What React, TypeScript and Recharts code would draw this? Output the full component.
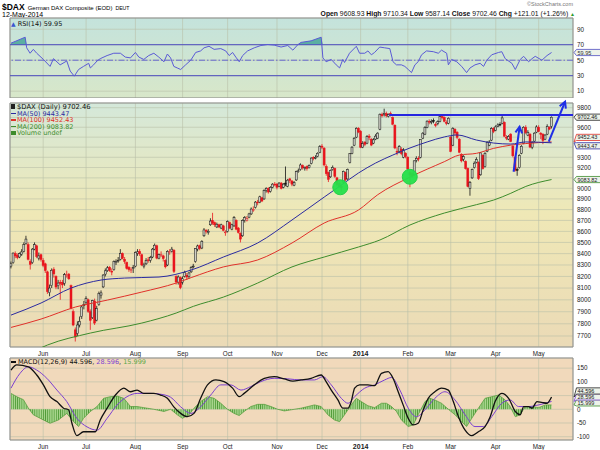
import React from 'react';
import {
  ComposedChart,
  Bar,
  Line,
  Area,
  XAxis,
  YAxis,
  CartesianGrid,
  ReferenceLine,
  ReferenceDot,
  ReferenceArea
} from 'recharts';

// trading day index 0 = 13-May-2013, 252 = 12-May-2014
const monthTicks = [15, 35, 58, 80, 101, 124, 145, 163, 185, 205, 226, 246];
const monthLabels = ['Jun', 'Jul', 'Aug', 'Sep', 'Oct', 'Nov', 'Dec', '2014', 'Feb', 'Mar', 'Apr', 'May'];
const priceTicks = [7700, 7800, 7900, 8000, 8100, 8200, 8300, 8400, 8500, 8600, 8700, 8800, 8900, 9000, 9100, 9200, 9300, 9400, 9500, 9600, 9700, 9800];
const rsiTicks = [10, 30, 50, 70, 90];
const macdTicks = [-100, -50, 0, 50, 100, 150];
// axis labels that sit behind the value tags
const priceHidden = [9700, 9500, 9400, 9100];
const macdHidden = [50];

const opens = [
  8290, 8320, 8400, 8385, 8370, 8395, 8420, 8490, 8480, 8330,
  8320, 8440, 8470, 8360, 8390, 8340, 8310, 8240, 8060, 8120,
  8260, 8200, 8120, 8150, 8150, 8140, 8210, 8220, 8120, 7900,
  7750, 7720, 7790, 7860, 7950, 7980, 8000, 7900, 7850, 7990,
  7830, 7960, 8040, 8110, 8220, 8250, 8280, 8245, 8260, 8320,
  8340, 8350, 8400, 8350, 8320, 8280, 8250, 8270, 8290, 8400,
  8420, 8390, 8290, 8310, 8345, 8340, 8370, 8440, 8470, 8360,
  8390, 8380, 8340, 8300, 8410, 8420, 8430, 8200, 8150, 8190,
  8150, 8200, 8210, 8200, 8240, 8290, 8330, 8440, 8470, 8450,
  8560, 8610, 8590, 8660, 8700, 8680, 8640, 8660, 8630, 8650,
  8590, 8600, 8680, 8620, 8650, 8700, 8630, 8580, 8560, 8700,
  8700, 8730, 8760, 8800, 8820, 8870, 8870, 8910, 8900, 8980,
  9000, 8970, 9010, 9040, 9040, 9020, 9050, 9010, 9050, 9020,
  9090, 9070, 9030, 9080, 9160, 9180, 9220, 9190, 9210, 9200,
  9240, 9300, 9290, 9310, 9350, 9410, 9390, 9210, 9150, 9110,
  9180, 9190, 9100, 9050, 9020, 9060, 9150, 9090, 9250, 9340,
  9420, 9500, 9590, 9560, 9400, 9450, 9440, 9510, 9480, 9440,
  9480, 9490, 9580, 9730, 9730, 9740, 9710, 9740, 9700, 9620,
  9360, 9360, 9380, 9300, 9340, 9300, 9150, 9140, 9130, 9270,
  9290, 9300, 9490, 9530, 9600, 9660, 9650, 9670, 9630, 9640,
  9660, 9710, 9700, 9650, 9640, 9500, 9420, 9580, 9550, 9480,
  9330, 9280, 9260, 9190, 9000, 9100, 9200, 9250, 9250, 9130,
  9320, 9210, 9360, 9420, 9470, 9590, 9570, 9610, 9630, 9640,
  9650, 9500, 9480, 9530, 9410, 9300, 9180, 9200, 9340, 9440,
  9600, 9520, 9530, 9400, 9460, 9550, 9600, 9540, 9530, 9480,
  9530, 9600, 9608.93
];
const highs = [
  8330, 8410, 8420, 8400, 8410, 8440, 8500, 8560, 8500, 8350,
  8450, 8500, 8480, 8410, 8400, 8360, 8320, 8250, 8130, 8270,
  8280, 8210, 8170, 8170, 8170, 8230, 8250, 8230, 8130, 7920,
  7770, 7820, 7860, 7950, 7990, 8030, 8010, 7920, 8000, 8010,
  7950, 8070, 8080, 8220, 8270, 8290, 8290, 8270, 8340, 8350,
  8370, 8440, 8410, 8370, 8330, 8290, 8280, 8300, 8420, 8440,
  8440, 8400, 8320, 8360, 8370, 8380, 8450, 8490, 8480, 8400,
  8420, 8390, 8350, 8430, 8440, 8460, 8440, 8210, 8210, 8200,
  8200, 8250, 8230, 8240, 8290, 8310, 8450, 8480, 8480, 8520,
  8630, 8620, 8620, 8720, 8770, 8690, 8680, 8670, 8670, 8660,
  8610, 8700, 8690, 8670, 8740, 8710, 8640, 8590, 8710, 8740,
  8740, 8770, 8820, 8830, 8880, 8890, 8930, 8920, 8990, 9010,
  9010, 9020, 9050, 9060, 9050, 9060, 9060, 9050, 9210, 9090,
  9100, 9080, 9070, 9170, 9190, 9240, 9230, 9210, 9220, 9230,
  9300, 9310, 9320, 9350, 9420, 9430, 9400, 9230, 9160, 9180,
  9220, 9200, 9110, 9070, 9040, 9170, 9160, 9190, 9340, 9410,
  9500, 9600, 9600, 9570, 9460, 9460, 9520, 9530, 9490, 9490,
  9530, 9550, 9740, 9750, 9790, 9760, 9740, 9760, 9710, 9630,
  9400, 9420, 9400, 9390, 9350, 9310, 9170, 9160, 9270, 9310,
  9310, 9480, 9550, 9610, 9670, 9680, 9680, 9690, 9650, 9670,
  9720, 9730, 9710, 9670, 9700, 9510, 9600, 9590, 9560, 9490,
  9340, 9320, 9270, 9200, 9070, 9190, 9260, 9300, 9260, 9350,
  9330, 9350, 9460, 9470, 9600, 9600, 9620, 9640, 9650, 9720,
  9660, 9520, 9520, 9540, 9420, 9310, 9200, 9330, 9420, 9610,
  9620, 9570, 9540, 9460, 9550, 9620, 9620, 9550, 9540, 9530,
  9630, 9610, 9710.34
];
const lows = [
  8270, 8310, 8360, 8350, 8360, 8380, 8410, 8480, 8340, 8260,
  8310, 8430, 8360, 8340, 8330, 8280, 8230, 8050, 8030, 8100,
  8190, 8090, 8090, 8000, 8100, 8120, 8190, 8170, 7920, 7780,
  7655, 7700, 7770, 7840, 7920, 7960, 7890, 7750, 7840, 7790,
  7820, 7950, 8010, 8100, 8200, 8240, 8240, 8210, 8250, 8300,
  8320, 8340, 8350, 8310, 8260, 8240, 8230, 8230, 8280, 8380,
  8380, 8290, 8270, 8300, 8320, 8320, 8360, 8430, 8350, 8350,
  8370, 8330, 8270, 8290, 8390, 8410, 8230, 8130, 8130, 8090,
  8130, 8190, 8170, 8180, 8230, 8270, 8320, 8420, 8430, 8440,
  8550, 8580, 8570, 8650, 8660, 8640, 8630, 8630, 8620, 8600,
  8560, 8590, 8620, 8610, 8640, 8610, 8580, 8500, 8550, 8680,
  8690, 8720, 8750, 8780, 8810, 8840, 8860, 8870, 8890, 8960,
  8950, 8960, 9000, 9020, 8990, 9010, 8990, 9000, 9020, 9010,
  9050, 9020, 9020, 9070, 9150, 9170, 9180, 9170, 9170, 9190,
  9230, 9270, 9280, 9300, 9340, 9380, 9210, 9120, 9060, 9100,
  9170, 9100, 9020, 9000, 8970, 9050, 9070, 9080, 9240, 9330,
  9410, 9490, 9540, 9390, 9390, 9410, 9430, 9470, 9410, 9430,
  9470, 9480, 9570, 9700, 9710, 9700, 9700, 9710, 9620, 9380,
  9320, 9340, 9320, 9290, 9290, 9170, 9010, 9100, 9120, 9250,
  9260, 9290, 9480, 9520, 9590, 9630, 9630, 9640, 9600, 9620,
  9650, 9680, 9650, 9620, 9630, 9350, 9410, 9520, 9480, 9340,
  9250, 9260, 9180, 9010, 8930, 9090, 9190, 9240, 9080, 9120,
  9180, 9200, 9350, 9410, 9460, 9540, 9560, 9600, 9610, 9630,
  9500, 9470, 9470, 9450, 9300, 9160, 9120, 9190, 9330, 9430,
  9530, 9510, 9390, 9380, 9450, 9540, 9550, 9480, 9430, 9470,
  9520, 9570, 9587.14
];
const closes = [
  8310, 8405, 8380, 8365, 8400, 8415, 8480, 8530, 8350, 8305,
  8440, 8480, 8375, 8380, 8348, 8296, 8251, 8069, 8100, 8254,
  8222, 8109, 8143, 8140, 8127, 8215, 8213, 8180, 7928, 7790,
  7692, 7790, 7820, 7940, 7959, 8011, 7903, 7829, 7994, 7806,
  7926, 8055, 8059, 8212, 8249, 8275, 8250, 8244, 8331, 8331,
  8342, 8402, 8358, 8331, 8269, 8260, 8258, 8276, 8410, 8416,
  8398, 8300, 8300, 8340, 8338, 8366, 8440, 8475, 8360, 8391,
  8390, 8356, 8284, 8420, 8416, 8440, 8243, 8152, 8195, 8103,
  8180, 8235, 8195, 8230, 8276, 8290, 8446, 8468, 8446, 8509,
  8613, 8600, 8600, 8694, 8675, 8660, 8665, 8640, 8660, 8610,
  8594, 8690, 8630, 8660, 8725, 8620, 8590, 8530, 8700, 8725,
  8720, 8760, 8805, 8800, 8870, 8865, 8920, 8880, 8980, 9000,
  8965, 9010, 9040, 9033, 9010, 9050, 9000, 9040, 9040, 9078,
  9075, 9040, 9055, 9160, 9168, 9225, 9197, 9200, 9190, 9220,
  9292, 9290, 9300, 9340, 9405, 9400, 9225, 9140, 9085, 9172,
  9200, 9114, 9035, 9017, 9006, 9163, 9085, 9181, 9336, 9400,
  9489, 9589, 9552, 9400, 9435, 9428, 9506, 9497, 9421, 9473,
  9510, 9540, 9733, 9717, 9742, 9716, 9730, 9720, 9631, 9392,
  9349, 9406, 9336, 9374, 9306, 9186, 9127, 9116, 9265, 9290,
  9285, 9478, 9540, 9597, 9662, 9656, 9659, 9660, 9618, 9656,
  9708, 9699, 9661, 9639, 9692, 9358, 9589, 9542, 9498, 9350,
  9265, 9307, 9189, 9017, 9056, 9180, 9242, 9277, 9093, 9343,
  9189, 9338, 9448, 9451, 9588, 9556, 9603, 9623, 9628, 9695,
  9510, 9490, 9506, 9455, 9315, 9173, 9173, 9318, 9409, 9600,
  9545, 9549, 9401, 9446, 9540, 9603, 9556, 9529, 9467, 9521,
  9608, 9581, 9702.46
];

// moving averages: [day, value]
const ma50 = [
  [0, 7872], [14, 7973], [28, 8100], [42, 8169], [53, 8186], [69, 8195], [84, 8256], [99, 8370],
  [115, 8495], [131, 8704], [146, 8917], [154, 9031], [162, 9147], [170, 9244], [178, 9322],
  [186, 9392], [194, 9452], [202, 9502], [208, 9522], [217, 9471], [225, 9441], [233, 9431],
  [240, 9452], [252, 9443.47]
];
const ma100 = [
  [0, 7770], [14, 7839], [30, 7939], [45, 7998], [61, 8066], [77, 8143], [84, 8190], [99, 8283],
  [115, 8344], [131, 8495], [146, 8676], [162, 8796], [171, 8940], [186, 9107], [202, 9257],
  [209, 9322], [217, 9339], [225, 9388], [233, 9420], [240, 9436], [252, 9452.43]
];
const ma200 = [
  [12, 7590], [17, 7627], [37, 7724], [61, 7806], [77, 7889], [85, 7945], [99, 8023], [115, 8143],
  [131, 8283], [146, 8370], [162, 8459], [172, 8522], [186, 8658], [202, 8768], [217, 8846],
  [225, 8889], [233, 8953], [240, 9018], [252, 9083.82]
];

const rsi = [
  [0, 72], [6.6, 79.7], [7.3, 66], [8.9, 59], [10.4, 64], [12, 59], [15.1, 51], [18.2, 42], [19.8, 52],
  [22.9, 44], [26, 49], [27.6, 36], [29.5, 29.4], [31.5, 38], [33.8, 42], [36.2, 46], [37, 40],
  [38.5, 44], [40.1, 49], [41.6, 52], [44.8, 56], [47.9, 59], [51, 59], [53.3, 54], [55.7, 53],
  [58, 60], [59.6, 54], [61.9, 51], [64.2, 56], [66.6, 59], [68.9, 54], [71.3, 48], [72.9, 58],
  [74.4, 53], [75.9, 42], [77.5, 40], [79.1, 38], [81.4, 44], [83.8, 50], [86.1, 60], [88.4, 62],
  [90, 66], [92.3, 68], [94.7, 64], [97.8, 65], [100.1, 62], [101.7, 56], [103.3, 60], [104.8, 54],
  [106.4, 48], [108, 56], [110.3, 62], [113.4, 66], [116.5, 69], [119.7, 70.3], [122.7, 69.5],
  [125.9, 67], [129, 69], [131.4, 63], [133.7, 70], [135.2, 73], [139.9, 75], [144.6, 79.7],
  [145.4, 53], [146.9, 48], [149.3, 51], [151.6, 44], [153.2, 40], [154.7, 51], [155.5, 47],
  [157.8, 59], [161, 68], [162.5, 59], [164.9, 59], [166.4, 62], [168, 57], [169.5, 60], [171.9, 67],
  [174.2, 66], [176.6, 65], [178.1, 48], [179.7, 44], [182, 44], [183.6, 42], [185.2, 38],
  [186.7, 34], [188.3, 44], [189.8, 48], [191.4, 57], [193.7, 62], [196.9, 61], [199.2, 59],
  [200.7, 63], [203.1, 59], [203.9, 44], [205.4, 51], [207.8, 48], [210.1, 42], [212.4, 34],
  [214, 40], [216.3, 44], [218.7, 46], [220.3, 42], [221.8, 50], [224.1, 57], [227.3, 60],
  [228.8, 61], [230.4, 52], [233.5, 46], [235.1, 38], [237.4, 51], [239, 55], [241.3, 48],
  [242.9, 52], [244.4, 55], [247.5, 50], [249.9, 56], [252, 59.95]
];

const macd = [
  [0, 143], [2.7, 162], [8.1, 155], [12, 125], [15.1, 89], [18.2, 46], [21.4, 28], [24.5, 4],
  [26.8, -2], [28.4, -51], [30.7, -96], [33.8, -82], [37, -82], [39.3, -82], [41.6, -39], [44.8, 4],
  [48.7, 52], [52.6, 77], [55.7, 64], [58.8, 70], [61.9, 58], [66.6, 58], [69.7, 52], [72.9, 40],
  [75.9, 9], [79.1, -15], [82.2, -27], [85.3, -15], [88.4, 40], [91.6, 89], [95.5, 107], [99.3, 101],
  [103.3, 77], [106.4, 46], [108.7, 58], [113.4, 89], [118.1, 113], [122.7, 119], [127.4, 111],
  [131.4, 103], [135.2, 107], [139.9, 113], [144.6, 125], [146.9, 101], [149.3, 70], [152.4, 34],
  [154.7, 4], [157.1, 4], [158.6, 28], [160.2, 77], [162.5, 89], [166.4, 89], [169.5, 86],
  [172.7, 131], [175.8, 137], [178.1, 113], [180.5, 64], [182.8, 16], [185.2, -33], [187.5, -57],
  [189.8, -51], [192.2, -2], [194.5, 40], [197.6, 64], [200.7, 77], [203.9, 70], [206.2, 28],
  [208.6, -27], [211.7, -76], [214.8, -96], [217.9, -82], [221, -63], [223.4, -27], [225.7, 28],
  [228.8, 58], [232, 40], [235.1, -8], [237.4, -20], [239, 10], [241.3, 10], [242.9, 4],
  [245.2, 28], [247.5, 25], [249.9, 22], [252, 44.596]
];
const signal = [
  [0, 77], [4.2, 131], [8.1, 155], [12, 143], [16.7, 113], [21.4, 70], [26, 28], [30.7, -33],
  [35.4, -64], [40.1, -76], [44.8, -33], [49.5, 16], [54.1, 46], [58.8, 58], [65, 58], [69.7, 55],
  [74.4, 44], [79.1, 9], [83.8, -15], [88.4, 9], [93.1, 52], [97.8, 89], [102.5, 89], [107.2, 70],
  [111.8, 83], [116.5, 101], [122.7, 113], [129, 111], [135.2, 107], [141.5, 107], [145.4, 119],
  [149.3, 89], [154, 40], [157.1, 22], [160.2, 46], [164.9, 77], [169.5, 89], [174.2, 107],
  [177.4, 116], [181.3, 70], [185.2, 4], [189, -27], [193, -2], [197.6, 40], [202.3, 64],
  [207, 34], [211.7, -20], [216.3, -63], [220.3, -63], [224.1, -27], [228.8, 22], [232.7, 34],
  [236.6, 10], [241.3, 10], [246, 16], [252, 28.596]
];
const hist = [
  [0, 58], [2.7, 46], [5.8, 35], [8.1, 4], [10.4, -20], [15.1, -39], [18.2, -51], [22.1, -39],
  [26, -15], [29.2, -45], [31.5, -63], [33.8, -33], [37, -8], [40.1, 10], [43.2, 40], [46.3, 46],
  [49.5, 48], [52.6, 40], [55.7, 10], [58.8, 10], [61.9, 6], [66.6, 0], [71.3, -8], [74.4, 0],
  [77.5, -20], [79.9, -33], [83, -20], [85.3, 4], [88.4, 28], [91.6, 46], [94.7, 40], [97.8, 22],
  [100.9, 0], [104, -15], [106.4, -23], [108.7, -8], [111.8, 10], [115, 18], [118.1, 18],
  [121.2, 10], [124.3, 0], [127.4, -6], [130.6, -2], [135.2, 4], [138.4, 10], [141.5, 16],
  [144.6, 10], [147.7, -20], [150.8, -39], [153.2, -45], [155.5, -20], [158.6, 16], [161, 40],
  [163.3, 28], [166.4, 13], [169.5, 6], [172.7, 22], [175, 22], [177.4, 10], [179.7, -8],
  [182, -39], [185.2, -63], [187.5, -57], [189.8, -20], [193, 28], [195.3, 40], [197.6, 34],
  [200.7, 22], [203.9, 0], [207, -20], [210.1, -45], [212.4, -63], [214.8, -33], [217.9, 4],
  [221, 40], [224.1, 46], [227.3, 52], [230.4, 34], [232.7, 10], [235.1, -27], [237.4, -20],
  [239.7, 10], [242.9, 10], [246, 6], [249.1, 16], [252, 15.999]
];

// hand-drawn annotations, in chart units: [day, price]
const resistance = [[176.4, 9725], [262, 9725]];
const arrowA = [[234.3, 9159], [237.1, 9605]];
const arrowB = [[250.7, 9454], [258.3, 9862]];
const circles = [[153.5, 9010], [185.9, 9111]];

const X_DOMAIN: [number, number] = [-0.47, 262];
const PRICE_DOMAIN: [number, number] = [7611, 9849];
const RSI_DOMAIN: [number, number] = [1.2, 104.5];
const MACD_DOMAIN: [number, number] = [-112, 187];

const SANS = '"Liberation Sans", Arial, sans-serif';
const VERD = '"DejaVu Sans", Verdana, sans-serif';
const GRID = '#b9bfa8';
const BORDER = '#8f8f8f';

const candles = closes.map((c, i) => ({
  i,
  o: opens[i],
  h: highs[i],
  l: lows[i],
  c,
  range: [lows[i], highs[i]],
  up: i === 0 || c >= closes[i - 1]
}));
const toPts = (arr: number[][]) => arr.map(([i, v]) => ({ i, v }));
const rsiData = rsi.map(([i, v]) => ({ i, v, over: Math.max(v, 70) }));

function Candle(props: any) {
  const { x, y, width, height, payload } = props;
  if (!payload || x == null) return null;
  const top = height < 0 ? y + height : y;
  const hh = Math.abs(height);
  const { o, c, h, l, up } = payload;
  const lh = Math.log(h);
  const ll = Math.log(l);
  const toY = (v: number) => (lh === ll ? top : top + (hh * (lh - Math.log(v))) / (lh - ll));
  const color = up ? '#111111' : '#e8141c';
  const cx = x + width / 2;
  const bTop = toY(Math.max(o, c));
  const bBot = toY(Math.min(o, c));
  const hollow = c >= o;
  return (
    <g>
      <line x1={cx} x2={cx} y1={top} y2={top + hh} stroke={color} strokeWidth={0.8} />
      <rect
        x={cx - 1}
        y={bTop}
        width={2}
        height={Math.max(bBot - bTop, 0.8)}
        fill={hollow ? '#cfcfc6' : color}
        stroke={color}
        strokeWidth={0.5}
      />
    </g>
  );
}

const MonthTick = (props: any) => {
  const { x, y, payload } = props;
  const label = monthLabels[monthTicks.indexOf(payload.value)];
  const bold = label === '2014';
  return (
    <text
      x={x}
      y={y + 6.5}
      textAnchor="middle"
      fontSize={bold ? 7 : 6.3}
      fontWeight={bold ? 700 : 400}
      fill="#222"
      fontFamily={SANS}
    >
      {label}
    </text>
  );
};

const ValueTick = (props: any) => {
  const { x, y, payload, hidden } = props;
  if (hidden && hidden.includes(payload.value)) return <g />;
  return (
    <text x={x + 2} y={y + 2.3} fontSize={6.3} fill="#222" fontFamily={SANS}>
      {payload.value}
    </text>
  );
};

const tag = (text: string, border: string, color: string, dy = 0) => (props: any) => {
  const { cx, cy } = props;
  const w = 25;
  const h = 6.2;
  const c = cy + dy;
  return (
    <g>
      <path
        d={`M${cx + 1},${cy} L${cx + 3.5},${c - h / 2} L${cx + 3.5 + w},${c - h / 2} L${cx + 3.5 + w},${c + h / 2} L${cx + 3.5},${c + h / 2} Z`}
        fill="#eef3ea"
        stroke={border}
        strokeWidth={0.8}
      />
      <text x={cx + 4.5} y={c + 2} fontSize={5.5} fill={color} fontFamily={SANS}>
        {text}
      </text>
    </g>
  );
};

const ArrowShape = (props: any) => {
  const { x1, y1, x2, y2 } = props;
  const ang = Math.atan2(y2 - y1, x2 - x1);
  const len = 7;
  const a1 = ang + Math.PI - 0.5;
  const a2 = ang + Math.PI + 0.5;
  const pts = `${x2 + len * Math.cos(a1)},${y2 + len * Math.sin(a1)} ${x2},${y2} ${x2 + len * Math.cos(a2)},${y2 + len * Math.sin(a2)}`;
  return (
    <g>
      <line x1={x1} y1={y1} x2={x2} y2={y2} stroke="#1f2fe6" strokeWidth={2} />
      <polyline points={pts} fill="none" stroke="#1f2fe6" strokeWidth={2} />
    </g>
  );
};

function Legend() {
  const row = (color: string, text: string, top: number) => (
    <div style={{ position: 'absolute', left: 11, top, fontSize: 6.5, color, fontFamily: VERD, whiteSpace: 'nowrap', lineHeight: '7px' }}>
      <span style={{ display: 'inline-block', width: 5, height: 1.5, background: color, verticalAlign: 'middle', marginRight: 1 }} />
      {text}
    </div>
  );
  return (
    <>
      <div style={{ position: 'absolute', left: 11, top: 103.5, fontSize: 6.8, color: '#111', fontFamily: VERD, whiteSpace: 'nowrap', lineHeight: '7px' }}>
        <span style={{ display: 'inline-block', width: 4, height: 5, background: '#222', marginRight: 2, verticalAlign: 'middle' }} />
        $DAX (Daily) 9702.46
      </div>
      {row('#2b2ba0', 'MA(50) 9443.47', 110.5)}
      {row('#e0312a', 'MA(100) 9452.43', 117)}
      {row('#3d8c2c', 'MA(200) 9083.82', 123.5)}
      <div style={{ position: 'absolute', left: 11, top: 130, fontSize: 6.5, color: '#3d8c2c', fontFamily: VERD, whiteSpace: 'nowrap', lineHeight: '7px' }}>
        <span style={{ display: 'inline-block', width: 5, height: 4, background: '#3d8c2c', marginRight: 1, verticalAlign: 'middle' }} />
        Volume undef
      </div>
    </>
  );
}

export default function App() {
  return (
    <div style={{ position: 'absolute', left: 0, top: 0, width: 600, height: 450, background: '#fff', overflow: 'hidden' }}>
      {/* header */}
      <div style={{ position: 'absolute', left: 2, top: 0, fontFamily: SANS, whiteSpace: 'nowrap', lineHeight: '9px' }}>
        <span style={{ fontSize: 8.5, fontWeight: 700 }}>$DAX</span>
        <span style={{ fontSize: 6, marginLeft: 3 }}>German DAX Composite (EOD)</span>
        <span style={{ fontSize: 5.2, marginLeft: 3 }}>DEUT</span>
      </div>
      <div style={{ position: 'absolute', left: 2, top: 11, fontFamily: SANS, fontSize: 7, whiteSpace: 'nowrap', lineHeight: '7px' }}>
        12-May-2014
      </div>
      <div style={{ position: 'absolute', right: 27, top: 1, fontFamily: SANS, fontSize: 5.5, color: '#777', whiteSpace: 'nowrap', lineHeight: '7px' }}>
        ©StockCharts.com
      </div>
      <div style={{ position: 'absolute', right: 25, top: 10, fontFamily: SANS, fontSize: 6.8, whiteSpace: 'nowrap', lineHeight: '8px', color: '#111' }}>
        <b>Open</b> 9608.93 <b>High</b> 9710.34 <b>Low</b> 9587.14 <b>Close</b> 9702.46 <b>Chg</b> +121.01 (+1.26%){' '}
        <span style={{ color: '#2a9a2a', fontSize: 5 }}>▲</span>
      </div>

      {/* RSI panel */}
      <div style={{ position: 'absolute', left: 0, top: 12 }}>
        <ComposedChart width={600} height={86} data={rsiData} margin={{ top: 6, right: 0, bottom: 0, left: 10 }}>
          <defs>
            <linearGradient id="rsiBg" x1="0" y1="0" x2="0" y2="1">
              <stop offset="0%" stopColor="#c4e3dc" />
              <stop offset="100%" stopColor="#d8e7c9" />
            </linearGradient>
          </defs>
          <CartesianGrid fill="url(#rsiBg)" fillOpacity={1} stroke={GRID} strokeWidth={0.6} />
          <XAxis dataKey="i" type="number" domain={X_DOMAIN} ticks={monthTicks} allowDataOverflow hide />
          <YAxis
            orientation="right"
            width={27}
            domain={RSI_DOMAIN}
            ticks={rsiTicks}
            interval={0}
            allowDataOverflow
            axisLine={false}
            tickLine={false}
            tickSize={0}
            tick={<ValueTick />}
          />
          <Area dataKey="over" baseValue={70} type="linear" fill="#4fa99c" fillOpacity={0.9} stroke="none" isAnimationActive={false} />
          <ReferenceLine y={70} stroke="#4c4cc0" strokeWidth={1} />
          <ReferenceLine y={30} stroke="#4c4cc0" strokeWidth={1} />
          <ReferenceLine y={50} stroke="#5a5ad0" strokeWidth={0.9} strokeDasharray="6 2 1.5 2" />
          <Line dataKey="v" type="linear" stroke="#5a5ad6" strokeWidth={1} dot={false} isAnimationActive={false} />
          <ReferenceArea x1={X_DOMAIN[0]} x2={X_DOMAIN[1]} y1={RSI_DOMAIN[0]} y2={RSI_DOMAIN[1]} fill="none" stroke={BORDER} ifOverflow="visible" />
          <ReferenceDot x={X_DOMAIN[1]} y={59.95} r={1} ifOverflow="visible" shape={tag('59.95', '#4c4cc0', '#333')} />
        </ComposedChart>
      </div>
      <div style={{ position: 'absolute', left: 11, top: 19.5, fontFamily: VERD, fontSize: 6.5, whiteSpace: 'nowrap', lineHeight: '7px', color: '#111' }}>
        <span style={{ color: '#3b55d0', fontSize: 6 }}>▲</span> RSI(14) 59.95
      </div>

      {/* price panel */}
      <div style={{ position: 'absolute', left: 0, top: 98 }}>
        <ComposedChart width={600} height={261} data={candles} margin={{ top: 5, right: 0, bottom: 0, left: 10 }}>
          <defs>
            <linearGradient id="mainBg" x1="0" y1="0" x2="0" y2="1">
              <stop offset="0%" stopColor="#d4e8da" />
              <stop offset="45%" stopColor="#efe8b6" />
              <stop offset="100%" stopColor="#ebdab6" />
            </linearGradient>
          </defs>
          <CartesianGrid fill="url(#mainBg)" fillOpacity={1} stroke={GRID} strokeWidth={0.6} />
          <XAxis
            dataKey="i"
            type="number"
            domain={X_DOMAIN}
            ticks={monthTicks}
            interval={0}
            allowDataOverflow
            height={12}
            axisLine={false}
            tickLine={false}
            tickSize={0}
            tick={<MonthTick />}
          />
          <YAxis
            orientation="right"
            width={27}
            scale="log"
            domain={PRICE_DOMAIN}
            ticks={priceTicks}
            interval={0}
            allowDataOverflow
            axisLine={false}
            tickLine={false}
            tickSize={0}
            tick={<ValueTick hidden={priceHidden} />}
          />
          {circles.map(([i, v], k) => (
            <ReferenceDot key={k} x={i} y={v} r={7.5} fill="#25e04a" stroke="#25d048" fillOpacity={0.95} />
          ))}
          <Line data={toPts(ma200)} dataKey="v" type="monotone" stroke="#3d8c2c" strokeWidth={1} dot={false} isAnimationActive={false} />
          <Line data={toPts(ma100)} dataKey="v" type="monotone" stroke="#e0312a" strokeWidth={1} dot={false} isAnimationActive={false} />
          <Line data={toPts(ma50)} dataKey="v" type="monotone" stroke="#2b2ba0" strokeWidth={1} dot={false} isAnimationActive={false} />
          <Bar dataKey="range" barSize={2} shape={Candle} isAnimationActive={false} />
          <ReferenceLine
            segment={resistance.map(([x, y]) => ({ x, y }))}
            stroke="#2626e0"
            strokeWidth={2}
            ifOverflow="visible"
          />
          <ReferenceLine segment={arrowA.map(([x, y]) => ({ x, y }))} ifOverflow="visible" shape={ArrowShape} />
          <ReferenceLine segment={arrowB.map(([x, y]) => ({ x, y }))} ifOverflow="visible" shape={ArrowShape} />
          <ReferenceArea x1={X_DOMAIN[0]} x2={X_DOMAIN[1]} y1={PRICE_DOMAIN[0]} y2={PRICE_DOMAIN[1]} fill="none" stroke={BORDER} ifOverflow="visible" />
          <ReferenceDot x={X_DOMAIN[1]} y={9083.82} r={1} ifOverflow="visible" shape={tag('9083.82', '#3d8c2c', '#222')} />
          <ReferenceDot x={X_DOMAIN[1]} y={9452.43} r={1} ifOverflow="visible" shape={tag('9452.43', '#e0312a', '#222', -4.5)} />
          <ReferenceDot x={X_DOMAIN[1]} y={9443.47} r={1} ifOverflow="visible" shape={tag('9443.47', '#2b2ba0', '#222', 3)} />
          <ReferenceDot x={X_DOMAIN[1]} y={9702.46} r={1} ifOverflow="visible" shape={tag('9702.46', '#222', '#111')} />
        </ComposedChart>
      </div>
      <Legend />

      {/* MACD panel */}
      <div style={{ position: 'absolute', left: 0, top: 353 }}>
        <ComposedChart width={600} height={99} data={toPts(hist)} margin={{ top: 5, right: 0, bottom: 0, left: 10 }}>
          <defs>
            <pattern id="histStripes" patternUnits="userSpaceOnUse" width="2.15" height="4">
              <rect width="2.15" height="4" fill="#a9d68e" />
              <rect width="0.8" height="4" fill="#4f9a37" />
            </pattern>
          </defs>
          <CartesianGrid fill="#f1d9bb" fillOpacity={1} stroke={GRID} strokeWidth={0.6} />
          <XAxis
            dataKey="i"
            type="number"
            domain={X_DOMAIN}
            ticks={monthTicks}
            interval={0}
            allowDataOverflow
            height={12}
            axisLine={false}
            tickLine={false}
            tickSize={0}
            tick={<MonthTick />}
          />
          <YAxis
            orientation="right"
            width={27}
            domain={MACD_DOMAIN}
            ticks={macdTicks}
            interval={0}
            allowDataOverflow
            axisLine={false}
            tickLine={false}
            tickSize={0}
            tick={<ValueTick hidden={macdHidden} />}
          />
          <Area dataKey="v" baseValue={0} type="linear" fill="url(#histStripes)" fillOpacity={1} stroke="#4f9a37" strokeWidth={0.7} isAnimationActive={false} />
          <Line data={toPts(signal)} dataKey="v" type="monotone" stroke="#7b3fd0" strokeWidth={1} dot={false} isAnimationActive={false} />
          <Line data={toPts(macd)} dataKey="v" type="monotone" stroke="#111" strokeWidth={1.3} dot={false} isAnimationActive={false} />
          <ReferenceArea x1={X_DOMAIN[0]} x2={X_DOMAIN[1]} y1={MACD_DOMAIN[0]} y2={MACD_DOMAIN[1]} fill="none" stroke={BORDER} ifOverflow="visible" />
          <ReferenceDot x={X_DOMAIN[1]} y={15.999} r={1} ifOverflow="visible" shape={tag('15.999', '#3d8c2c', '#222', -2)} />
          <ReferenceDot x={X_DOMAIN[1]} y={28.596} r={1} ifOverflow="visible" shape={tag('28.596', '#7b3fd0', '#222', -4.5)} />
          <ReferenceDot x={X_DOMAIN[1]} y={44.596} r={1} ifOverflow="visible" shape={tag('44.596', '#222', '#111', -6.1)} />
        </ComposedChart>
      </div>
      <div style={{ position: 'absolute', left: 11, top: 359, fontFamily: VERD, fontSize: 6.5, whiteSpace: 'nowrap', lineHeight: '7px', color: '#111' }}>
        <span style={{ display: 'inline-block', width: 5, height: 1.5, background: '#111', verticalAlign: 'middle', marginRight: 2 }} />
        MACD(12,26,9) 44.596, <span style={{ color: '#7b3fd0' }}>28.596</span>, <span style={{ color: '#5aa845' }}>15.999</span>
      </div>
    </div>
  );
}
